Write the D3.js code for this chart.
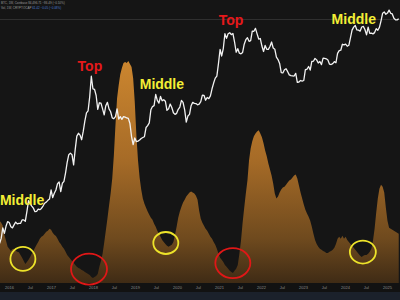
<!DOCTYPE html>
<html lang="en">
<head>
<meta charset="UTF-8">
<title>BTC ciclo</title>
<script src="https://cdn.jsdelivr.net/npm/d3@7"></script>
<style>
    body{ margin:0; background:#151515; }
    .cabecera{ font-family:'Liberation Sans', sans-serif; font-size:3px; fill:#9a9a9a; }
    .azul{ fill:#4a7bd0; }
    .ejes text{ font-family:'Liberation Sans', sans-serif; font-size:4px; fill:#8c8c8c; }
    .etiqueta{ font-family:'Liberation Sans', Arial, sans-serif; font-weight:700; font-size:14px; }
</style>
</head>
<body>
<div id="grafico"></div>
<script>
var w = 400;
var h = 300;

// precio semanal (cada 2 semanas) desde oct 2015
var inicio = new Date(2015, 9, 11);
var precio = [
    250, 285, 375, 325, 390, 440,
    430, 385, 375, 405, 435, 415, 420, 420, 460, 460, 445, 575, 760, 700, 660, 625, 570, 575, 610, 600, 620, 660, 710, 730, 765, 790,
    1000, 820, 920, 1000, 1180, 1230, 960, 1190, 1250, 1560, 2050, 2500, 2600, 2500, 1920, 2870, 4050, 4350, 4150, 3680, 4600, 6000, 7400, 7800, 11200, 19100, 13800,
    13600, 11600, 8100, 9600, 9500, 8200, 7000, 8900, 9700, 8200, 7600, 6500, 6350, 6700, 8200, 6300, 6700, 6250, 6700, 6600, 6500, 6400, 5600, 4000, 3250, 3850,
    3500, 3550, 3650, 3800, 3900, 3980, 5050, 5300, 5700, 8000, 8700, 8900, 11900, 10200, 9500, 11300, 10100, 10400, 10000, 7900, 8200, 9300, 8500, 7400, 7100, 7300,
    8100, 8600, 10200, 9700, 8000, 5800, 6800, 7100, 8900, 9700, 9450, 9400, 9100, 9250, 9900, 11700, 11650, 10250, 11000, 10700, 11500, 13800, 16000, 18200, 19200, 26500,
    38200, 32300, 39200, 57500, 51000, 57500, 59000, 56200, 57800, 46400, 35600, 39000, 34700, 34200, 35400, 43800, 49300, 51800, 47200, 48200, 61500, 61300, 66000, 57200, 50100, 50800,
    41800, 36300, 42400, 38400, 38400, 41300, 46400, 39700, 38500, 31300, 29400, 26600, 21000, 20800, 22600, 23200, 21500, 19800, 19400, 19300, 19200, 20600, 16300, 16450, 17100, 16840,
    17100, 22700, 22900, 24600, 22400, 28000, 28200, 30300, 29200, 26900, 28000, 25800, 30500, 30300, 30000, 29100, 26100, 25900, 26500, 27900, 27100, 34500, 37100, 37500, 43800, 43000,
    43900, 41600, 42600, 51600, 63100, 68300, 71300, 63400, 63100, 61500, 68500, 69600, 64200, 55900, 68200, 58100, 58400, 57300, 59200, 65600, 62900, 67900, 80400, 98000, 101100, 95200,
    98300, 106000, 97700, 96100, 86000, 82600, 82400, 85000
];

// oscilador naranja (mismas fechas)
var oscilador = [
    28.2, 27.3, 25.9, 21.8, 19.1, 16.4, 15.5, 14.5, 15.4, 15.5,
    14.6, 14.1, 13.9, 12.7, 11.4, 10.0, 8.6, 9.5, 10.5, 11.8,
    13.2, 14.5, 15.9, 17.3, 18.6, 20.0, 20.9, 21.4, 22.3, 23.2,
    23.6, 24.5, 24.1, 22.7, 21.8, 21.3, 20.0, 18.6, 17.7, 16.4,
    15.5, 14.1, 12.7, 11.8, 10.9, 10.0, 9.1, 8.2, 7.3, 6.8,
    6.4, 5.9, 5.5, 5.0, 4.5, 4.1, 3.6, 2.7, 2.3, 2.7,
    3.2, 4.1, 7.3, 10.0, 13.2, 18.2, 23.6, 29.1, 35.0, 40.5,
    47.3, 57.7, 71.4, 83.6, 89.5, 94.5, 97.3, 99.5, 100, 99.5,
    100.5, 99.1, 97.7, 92.7, 81.8, 66.8, 55.5, 47.7, 42.3, 38.2,
    35.9, 34.1, 32.3, 30.9, 29.5, 28.6, 26.8, 25.5, 23.6, 22.3,
    20.9, 19.5, 18.6, 17.7, 16.8, 16.4, 16.8, 17.3, 18.6, 21.8,
    25.5, 29.5, 32.3, 34.5, 36.4, 37.7, 39.1, 40.0, 40.9, 41.4,
    40.9, 40.5, 39.5, 37.7, 32.7, 29.1, 27.3, 25.9, 24.5, 23.6,
    22.3, 20.9, 20.0, 18.6, 17.3, 15.5, 13.2, 11.4, 10.5, 9.5,
    8.2, 7.3, 6.4, 5.5, 5.0, 4.5, 5.5, 6.4, 8.2, 13.2,
    19.1, 27.3, 34.1, 40.5, 46.4, 55.5, 60.9, 64.1, 66.4, 67.7,
    68.6, 69.1, 67.7, 65.9, 63.2, 60.0, 57.3, 54.1, 51.4, 48.6,
    45.0, 40.5, 38.2, 39.1, 40.9, 42.3, 43.2, 43.6, 44.5, 45.5,
    46.4, 46.8, 47.7, 48.6, 49.1, 47.3, 44.1, 40.9, 38.2, 35.5,
    33.2, 31.4, 30.0, 28.2, 25.5, 22.3, 19.5, 17.7, 16.4, 15.5,
    15.0, 14.5, 14.1, 13.6, 13.6, 14.1, 14.5, 15.0, 15.9, 17.7,
    20.0, 20.9, 20.0, 21.4, 20.0, 20.9, 19.5, 18.6, 17.7, 16.8,
    15.9, 15.0, 14.1, 13.2, 12.3, 11.8, 12.3, 12.7, 12.7, 13.2,
    14.1, 15.5, 19.1, 24.5, 31.8, 38.2, 42.7, 44.5, 43.6, 40.9,
    34.1, 28.2, 25.0, 24.5, 24.1, 23.6, 23.2, 22.7, 22.3
];

// etiquetas del eje
var anos = [2016, 2017, 2018, 2019, 2020, 2021, 2022, 2023, 2024, 2025];
var textoMedio = "Jul";

// textos grandes: fecha, precio
var textos = [
    { t: "Middle", fecha: new Date(2015, 9, 14), valor: 680, color: "#f3ee35", ancla: "start" },
    { t: "Top", fecha: new Date(2017, 11, 5), valor: 21900, color: "#e5191b", ancla: "middle" },
    { t: "Middle", fecha: new Date(2019, 7, 23), valor: 13700, color: "#f3ee35", ancla: "middle" },
    { t: "Top", fecha: new Date(2021, 3, 15), valor: 72100, color: "#e5191b", ancla: "middle" },
    { t: "Middle", fecha: new Date(2024, 2, 18), valor: 74000, color: "#f3ee35", ancla: "middle" }
];

// circulos sobre el oscilador
var circulos = [
    { fecha: new Date(2016, 4, 1), valor: 10.9, rx: 12.5, ry: 12, color: "#ede32a" },
    { fecha: new Date(2017, 10, 27), valor: 6.3, rx: 18, ry: 15.5, color: "#e01717" },
    { fecha: new Date(2019, 8, 26), valor: 18.1, rx: 12.5, ry: 11, color: "#ede32a" },
    { fecha: new Date(2021, 4, 1), valor: 9.0, rx: 17.5, ry: 15, color: "#e01717" },
    { fecha: new Date(2024, 5, 5), valor: 14.0, rx: 13, ry: 11.5, color: "#ede32a" }
];

var fechas = precio.map(function(d, i){ return d3.timeDay.offset(inicio, 14 * i); });

var xScale = d3.scaleTime()
    .domain([new Date(2016, 0, 1), new Date(2025, 0, 1)])
    .range([9, 387]);
var yScale = d3.scaleLog()
    .domain([1000, 100000])
    .range([190, 12.4]);
var oScale = d3.scaleLinear()
    .domain([0, 100])
    .range([283, 62]);

var svg = d3.select("#grafico")
    .append("svg")
    .attr("width", w)
    .attr("height", h);

var degradado = svg.append("defs").append("linearGradient")
    .attr("id", "relleno")
    .attr("gradientUnits", "userSpaceOnUse")
    .attr("x1", 0).attr("y1", 60).attr("x2", 0).attr("y2", 283);
degradado.append("stop").attr("offset", "0").attr("stop-color", "#cc862f");
degradado.append("stop").attr("offset", "0.45").attr("stop-color", "#a66b27");
degradado.append("stop").attr("offset", "0.8").attr("stop-color", "#6f4a1e");
degradado.append("stop").attr("offset", "1").attr("stop-color", "#3f2b15");

svg.append("rect").attr("width", w).attr("height", h).attr("fill", "#151515");

// linea separadora
svg.append("line")
    .attr("x1", 0).attr("x2", w).attr("y1", 19.5).attr("y2", 19.5)
    .attr("stroke", "#2f2f2f").attr("stroke-width", 1);

// area naranja
var area = d3.area()
    .x(function(d, i){ return xScale(fechas[i]); })
    .y0(oScale(0))
    .y1(function(d){ return oScale(d); });
svg.append("path")
    .datum(oscilador)
    .attr("d", area)
    .attr("fill", "url(#relleno)");

// linea de precio
var linea = d3.line()
    .x(function(d, i){ return xScale(fechas[i]); })
    .y(function(d){ return yScale(d); });
svg.append("path")
    .datum(precio)
    .attr("d", linea)
    .attr("fill", "none")
    .attr("stroke", "#f2f2f2")
    .attr("stroke-width", 1.3)
    .attr("stroke-linejoin", "round");

// eje inferior
svg.append("rect").attr("x", 0).attr("y", 283).attr("width", w).attr("height", 9).attr("fill", "#121212");
svg.append("rect").attr("x", 0).attr("y", 292).attr("width", w).attr("height", 8).attr("fill", "#1b212b");

var marcas = [];
anos.forEach(function(a){
    marcas.push(new Date(a, 0, 1));
    if (a < 2025) marcas.push(new Date(a, 6, 1));
});
var eje = d3.axisBottom(xScale)
    .tickValues(marcas)
    .tickSize(0)
    .tickPadding(3)
    .tickFormat(function(d){ return d.getMonth() === 0 ? d.getFullYear() : textoMedio; });
svg.append("g")
    .attr("class", "ejes")
    .attr("transform", "translate(0,283)")
    .call(eje)
    .call(function(g){ g.select(".domain").remove(); });

// circulos
svg.selectAll("ellipse")
    .data(circulos)
    .enter()
    .append("ellipse")
    .attr("cx", function(d){ return xScale(d.fecha); })
    .attr("cy", function(d){ return oScale(d.valor); })
    .attr("rx", function(d){ return d.rx; })
    .attr("ry", function(d){ return d.ry; })
    .attr("fill", "none")
    .attr("stroke", function(d){ return d.color; })
    .attr("stroke-width", 1.8);

// textos Top / Middle
svg.selectAll(".etiqueta")
    .data(textos)
    .enter()
    .append("text")
    .attr("class", "etiqueta")
    .attr("x", function(d){ return xScale(d.fecha); })
    .attr("y", function(d){ return yScale(d.valor); })
    .attr("text-anchor", function(d){ return d.ancla; })
    .attr("fill", function(d){ return d.color; })
    .text(function(d){ return d.t; });

// cabecera
svg.append("text").attr("class", "cabecera").attr("x", 1).attr("y", 4)
    .text("BTC, 1W, Coinbase  84,496.71  −86.49 (−0.10%)");
var l2 = svg.append("text").attr("class", "cabecera").attr("x", 1).attr("y", 9);
l2.append("tspan").text("Vol, 1W, CRYPTOCAP  ");
l2.append("tspan").attr("class", "azul").text("61.42 −0.05 (−0.08%)");
</script>
</body>
</html>
